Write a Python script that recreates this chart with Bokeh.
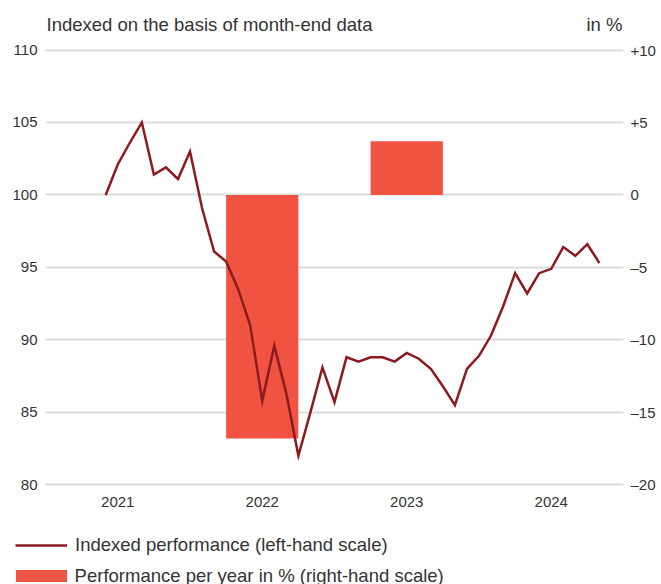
from bokeh.plotting import figure
from bokeh.models import (Range1d, LinearAxis, FixedTicker, Legend, LegendItem, Label)
from bokeh.embed import file_html
from bokeh.resources import INLINE

# ---- data ----
month_index = list(range(42))  # 0 = Dec 2020 month-end ... 41 = May 2024
index_values = [100.0, 102.1, 103.6, 105.0, 101.4, 101.9, 101.1, 103.0, 99.1, 96.1,
                95.4, 93.5, 91.0, 85.8, 89.6, 86.3, 82.0, 85.0, 88.1, 85.7,
                88.8, 88.5, 88.8, 88.8, 88.5, 89.1, 88.7, 88.0, 86.8, 85.5,
                88.0, 88.9, 90.3, 92.3, 94.6, 93.2, 94.6, 94.9, 96.4, 95.8,
                96.6, 95.3]
year_labels = ["2021", "2022", "2023", "2024"]
year_ticks = [1, 13, 25, 37]
bar_years = ["2022", "2023"]
bar_values = [-16.8, 3.7]
left_ticks = [80, 85, 90, 95, 100, 105, 110]
right_ticks = [-20, -15, -10, -5, 0, 5, 10]
right_tick_labels = ["–20", "–15", "–10", "–5", "0", "+5", "+10"]

FONT = "Liberation Sans"
TXT = "#333333"
LINE_C = "#8c1a1e"
BAR_C = "#f05341"
GRID_C = "#dcdcdc"
BIG = "18.5px"

year_pos = dict(zip(year_labels, year_ticks))
bar_x = [year_pos[y] for y in bar_years]

# plot area of the chart: x -5..43, y 80..110; the frame covers the whole canvas
X0, X1 = -5, 43
Y0, Y1 = 80, 110
XL, XR = -8.737, 46.156
YB, YT = 73.121, 113.4155

p = figure(width=661, height=584, output_backend="svg", toolbar_location=None,
           x_range=Range1d(XL, XR), y_range=Range1d(YB, YT),
           min_border_left=0, min_border_right=0, min_border_top=0,
           min_border_bottom=0)
p.outline_line_color = None
p.background_fill_color = "white"
p.border_fill_color = "white"
p.extra_y_ranges = {"pct": Range1d(YB - 100, YT - 100)}

p.xaxis.visible = False
p.yaxis.visible = False
p.xgrid.visible = False
p.ygrid.visible = False

def style_axis(ax, standoff):
    ax.axis_line_color = None
    ax.major_tick_line_color = None
    ax.minor_tick_line_color = None
    ax.major_tick_out = 0
    ax.major_tick_in = 0
    ax.major_label_text_font = FONT
    ax.major_label_text_font_size = "15px"
    ax.major_label_text_color = TXT
    ax.major_label_standoff = standoff

# left axis: its inward ticks act as the horizontal grid lines across the plot area
left_ax = LinearAxis(ticker=FixedTicker(ticks=left_ticks), fixed_location=X0)
style_axis(left_ax, 8)
left_ax.major_tick_line_color = GRID_C
left_ax.major_tick_line_width = 2
left_ax.major_tick_in = 578
left_ax.level = "underlay"
p.add_layout(left_ax, "left")

right_ax = LinearAxis(y_range_name="pct", ticker=FixedTicker(ticks=right_ticks),
                      fixed_location=X1,
                      major_label_overrides={t: l for t, l in zip(right_ticks, right_tick_labels)})
style_axis(right_ax, 7)
p.add_layout(right_ax, "right")

bottom_ax = LinearAxis(ticker=FixedTicker(ticks=year_ticks), fixed_location=Y0,
                       major_label_overrides={t: l for t, l in zip(year_ticks, year_labels)})
style_axis(bottom_ax, 12)
p.add_layout(bottom_ax, "below")

bars = p.vbar(x=bar_x, top=bar_values, bottom=0, width=6, y_range_name="pct",
              fill_color=BAR_C, line_color=None)
line = p.line(month_index, index_values, line_color=LINE_C, line_width=2.5,
              line_join="miter")

p.add_layout(Label(x=X0, y=Y1, x_offset=1, y_offset=26,
                   text="Indexed on the basis of month-end data",
                   text_font=FONT, text_font_size=BIG, text_color=TXT,
                   text_baseline="middle", text_align="left"))
p.add_layout(Label(x=X1, y=Y1, x_offset=-1, y_offset=26, text="in %",
                   text_font=FONT, text_font_size=BIG, text_color=TXT,
                   text_baseline="middle", text_align="right"))

common = dict(orientation="vertical", padding=0, margin=0,
              background_fill_alpha=0, border_line_alpha=0,
              label_text_font=FONT, label_text_font_size=BIG, label_text_color=TXT)
legend_line = Legend(items=[LegendItem(label="Indexed performance (left-hand scale)", renderers=[line])],
                     location=(15, 28), glyph_width=52, glyph_height=12, label_standoff=8, **common)
legend_bar = Legend(items=[LegendItem(label="Performance per year in % (right-hand scale)", renderers=[bars])],
                    location=(8.6, -2.5), glyph_width=64, glyph_height=15, label_standoff=2, **common)
p.add_layout(legend_line, "center")
p.add_layout(legend_bar, "center")

open("out.html", "w").write(file_html(p, INLINE))
